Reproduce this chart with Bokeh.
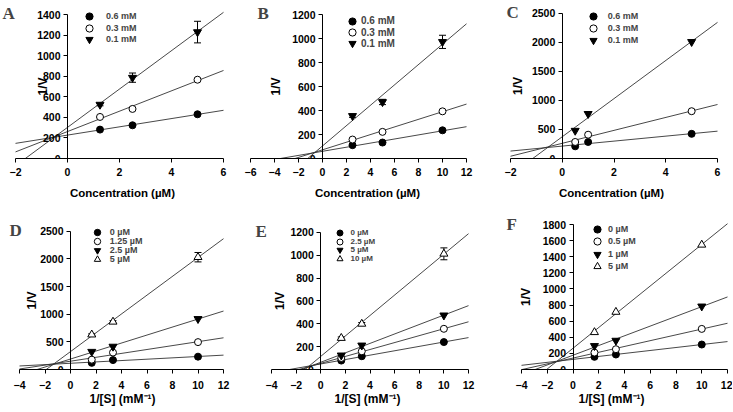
import numpy as np
from bokeh.plotting import figure
from bokeh.layouts import column, row
from bokeh.models import (ColumnDataSource, Whisker, TeeHead, Legend, LegendItem,
                          Label, FixedTicker)
from bokeh.embed import file_html
from bokeh.resources import INLINE

# ---------------- data ----------------
# Panel A
a_conc = [1.25, 2.5, 5.0]
a_labels = ["0.6 mM", "0.3 mM", "0.1 mM"]
a_06 = [281, 323, 430]
a_03 = [404, 482, 766]
a_01 = [524, 786, 1229]
a_01_err = [12, 45, 105]
a_xticks = [-2, 0, 2, 4, 6]
a_yticks = [0, 200, 400, 600, 800, 1000, 1200, 1400]

# Panel B
b_conc = [2.5, 5.0, 10.0]
b_labels = ["0.6 mM", "0.3 mM", "0.1 mM"]
b_06 = [111, 133, 235]
b_03 = [158, 222, 393]
b_01 = [355, 471, 972]
b_01_err = [12, 22, 55]
b_xticks = [-6, -4, -2, 0, 2, 4, 6, 8, 10, 12]
b_yticks = [0, 200, 400, 600, 800, 1000, 1200]

# Panel C
c_conc = [0.5, 1.0, 5.0]
c_labels = ["0.6 mM", "0.3 mM", "0.1 mM"]
c_06 = [210, 285, 425]
c_03 = [285, 410, 815]
c_01 = [480, 770, 2010]
c_xticks = [-2, 0, 2, 4, 6]
c_yticks = [0, 500, 1000, 1500, 2000, 2500]

# Panels D-F: 1/[S]
inv_s = [1.667, 3.333, 10.0]
s_xticks = [-4, -2, 0, 2, 4, 6, 8, 10, 12]

# Panel D
d_labels = ["0 µM", "1.25 µM", "2.5 µM", "5 µM"]
d_0 = [120, 170, 232]
d_125 = [178, 306, 495]
d_25 = [322, 415, 915]
d_5 = [630, 862, 2030]
d_5_err = [15, 20, 85]
d_yticks = [0, 500, 1000, 1500, 2000, 2500]

# Panel E
e_labels = ["0 µM", "2.5 µM", "5 µM", "10 µM"]
e_0 = [78, 116, 240]
e_25 = [101, 159, 356]
e_5 = [124, 211, 474]
e_10 = [275, 399, 1012]
e_10_err = [10, 12, 52]
e_yticks = [0, 200, 400, 600, 800, 1000, 1200]

# Panel F
f_labels = ["0 µM", "0.5 µM", "1 µM", "5 µM"]
f_0 = [157, 186, 310]
f_05 = [210, 252, 504]
f_1 = [293, 359, 784]
f_5 = [462, 714, 1548]
f_yticks = [0, 200, 400, 600, 800, 1000, 1200, 1400, 1600, 1800]

FONT = "Liberation Sans"
STYLES = [("circle", "black", 7), ("circle", "white", 7),
          ("inverted_triangle", "black", 8), ("triangle", "white", 8)]


def panel(letter, xs, series, labels, errs, xticks, yticks, xlabel, g):
    # axes occupy page box fx0..fx1 / fy0..fy1; the frame fills the figure above the x axis
    x0, y0, w, h = g["x0"], g["y0"], g["w"], g["h"]
    fx0, fx1, fy0, fy1 = g["fx0"], g["fx1"], g["fy0"], g["fy1"]
    xt0, xt1 = xticks[0], xticks[-1]
    yt0, yt1 = yticks[0], yticks[-1]
    xs_ = (xt1 - xt0) / (fx1 - fx0)
    ys_ = (yt1 - yt0) / (fy1 - fy0)
    bottom = (y0 + h) - fy1
    p = figure(width=w, height=h,
               x_range=(xt0 - (fx0 - x0) * xs_, xt1 + (x0 + w - fx1) * xs_),
               y_range=(yt0, yt1 + (fy0 - y0) * ys_),
               output_backend="svg", toolbar_location=None,
               min_border_left=0, min_border_right=0,
               min_border_top=0, min_border_bottom=bottom)
    p.outline_line_color = None
    p.grid.visible = False
    p.background_fill_color = "white"
    p.border_fill_color = "white"

    for ax in (p.xaxis[0], p.yaxis[0]):
        ax.major_tick_in = 0
        ax.major_tick_out = 4
        ax.minor_tick_line_color = None
        ax.axis_line_color = "black"
        ax.major_tick_line_color = "black"
        ax.major_label_text_font = FONT
        ax.major_label_text_font_style = "bold"
        ax.major_label_text_font_size = "10.5px"
        ax.major_label_text_color = "black"
        ax.axis_label_text_font = FONT
        ax.axis_label_text_font_style = "bold"
        ax.axis_label_text_color = "black"
    p.xaxis.ticker = FixedTicker(ticks=xticks)
    p.yaxis.ticker = FixedTicker(ticks=yticks)
    p.xaxis.bounds = (xt0, xt1)
    p.yaxis.bounds = (yt0, yt1)
    p.yaxis.fixed_location = 0
    p.xaxis.axis_label = xlabel
    p.yaxis.axis_label = "1/V"
    p.xaxis.axis_label_text_font_size = g["xls"]
    p.yaxis.axis_label_text_font_size = "12px"
    p.xaxis.major_label_standoff = g["xms"]
    p.xaxis.axis_label_standoff = g["xas"]
    p.yaxis.major_label_standoff = 3
    p.yaxis.axis_label_standoff = g["yas"]

    xa = np.array([xt0, xt1], dtype=float)
    for ys in series:
        k, b0 = np.polyfit(xs, ys, 1)
        p.line(xa, k * xa + b0, line_color="#333333", line_width=0.9)

    for idx, e in errs.items():
        ys = series[idx]
        src = ColumnDataSource(dict(x=xs, upper=[y + d for y, d in zip(ys, e)],
                                    lower=[y - d for y, d in zip(ys, e)]))
        p.add_layout(Whisker(source=src, base="x", upper="upper", lower="lower",
                             dimension="height", line_color="black", line_width=1,
                             upper_head=TeeHead(size=7, line_color="black", line_width=1),
                             lower_head=TeeHead(size=7, line_color="black", line_width=1)))

    gw = g["gw"]
    for i, (ys, lab) in enumerate(zip(series, labels)):
        m, fc, sz = STYLES[i]
        r = p.scatter(xs, ys, marker=m, size=sz, fill_color=fc,
                      line_color="black", line_width=1)
        cy = g["cy0"] + i * g["pitch"]
        leg = Legend(items=[LegendItem(label=lab, renderers=[r])],
                     location=(g["cx"] - gw / 2 - x0, fy1 - (cy + gw / 2)))
        leg.background_fill_alpha = 0
        leg.border_line_color = None
        leg.padding = 0
        leg.margin = 0
        leg.spacing = 0
        leg.glyph_width = gw
        leg.glyph_height = gw
        leg.label_height = gw
        leg.label_standoff = int(round(g["tx"] - (g["cx"] + gw / 2)))
        leg.label_text_font = FONT
        leg.label_text_font_style = "bold"
        leg.label_text_font_size = g["lfs"]
        p.add_layout(leg)

    p.add_layout(Label(x=g["lx"] - x0, y=fy1 - g["ly"],
                       x_units="screen", y_units="screen",
                       text=letter, text_font="Liberation Serif",
                       text_font_style="bold", text_font_size="17px",
                       text_align="left", text_baseline="alphabetic"))
    return p


conc_label = "Concentration (µM)"
s_label = "1/[S] (mM⁻¹)"

pA = panel("A", a_conc, [a_06, a_03, a_01], a_labels, {2: a_01_err}, a_xticks, a_yticks,
           conc_label, dict(x0=0, y0=0, w=244, h=205, fx0=15, fx1=223, fy0=14, fy1=158,
                            yas=-16, xms=5, xas=8, xls="11.5px",
                            cx=89, cy0=16, pitch=11.5, tx=106, gw=18, lfs="9px",
                            lx=2, ly=12.7))
pB = panel("B", b_conc, [b_06, b_03, b_01], b_labels, {2: b_01_err}, b_xticks, b_yticks,
           conc_label, dict(x0=244, y0=0, w=246, h=205, fx0=250, fx1=466, fy0=14, fy1=158,
                            yas=6, xms=5, xas=8, xls="11.5px",
                            cx=352, cy0=20.7, pitch=11.3, tx=359, gw=18, lfs="10px",
                            lx=257, ly=13.3))
pC = panel("C", c_conc, [c_06, c_03, c_01], c_labels, {}, c_xticks, c_yticks,
           conc_label, dict(x0=490, y0=0, w=242, h=205, fx0=510, fx1=717, fy0=13, fy1=159,
                            yas=4, xms=5, xas=8, xls="11.5px",
                            cx=592.7, cy0=16.7, pitch=12, tx=607.7, gw=18, lfs="9px",
                            lx=506, ly=13.3))
pD = panel("D", inv_s, [d_0, d_125, d_25, d_5], d_labels, {3: d_5_err}, s_xticks, d_yticks,
           s_label, dict(x0=0, y0=205, w=244, h=206, fx0=19, fx1=223, fy0=231, fy1=371,
                         yas=-2, xms=7, xas=0, xls="12px",
                         cx=96.7, cy0=234.3, pitch=8.9, tx=110, gw=16, lfs="9px",
                         lx=9, ly=231.7))
pE = panel("E", inv_s, [e_0, e_25, e_5, e_10], e_labels, {3: e_10_err}, s_xticks, e_yticks,
           s_label, dict(x0=244, y0=205, w=246, h=206, fx0=271, fx1=468, fy0=232, fy1=370,
                         yas=0, xms=7, xas=0, xls="12px",
                         cx=339, cy0=233.5, pitch=8.6, tx=350, gw=15, lfs="8px",
                         lx=255, ly=232))
pF = panel("F", inv_s, [f_0, f_05, f_1, f_5], f_labels, {}, s_xticks, f_yticks,
           s_label, dict(x0=490, y0=205, w=242, h=206, fx0=521, fx1=727, fy0=224, fy1=369,
                         yas=7, xms=7, xas=0, xls="12px",
                         cx=597, cy0=229.3, pitch=12.1, tx=608, gw=18, lfs="9px",
                         lx=506, ly=223.5))

layout = column(row(pA, pB, pC), row(pD, pE, pF))
open("out.html", "w").write(file_html(layout, INLINE))
